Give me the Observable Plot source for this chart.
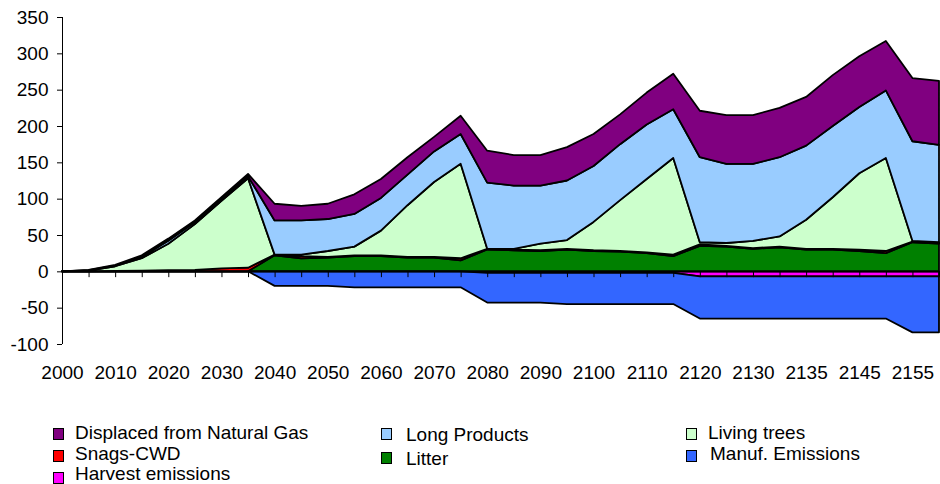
<!DOCTYPE html>
<html><head><meta charset="utf-8">
<script src="https://cdn.jsdelivr.net/npm/d3@7"></script>
<script src="https://cdn.jsdelivr.net/npm/@observablehq/plot@0.6"></script>
<style>
body{margin:0;background:#fff;font-family:"Liberation Sans",Arial,sans-serif;}
#wrap{position:relative;width:940px;height:484px;overflow:hidden;background:#fff;}
.lg{position:absolute;font-size:19px;color:#000;white-space:nowrap;line-height:19px;}
.sw{position:absolute;width:9px;height:10px;border:1.5px solid #000;}
</style></head><body><div id="wrap"></div><script>
// Category tick labels (every second category is labelled)
const xTickLabels = ["2000","2010","2020","2030","2040","2050","2060","2070","2080","2090","2100","2110","2120","2130","2135","2145","2155"];
const nCats = 34;

// Series values (one per 5-year category)
const litter =      [0,0,0,0,0,0,0,0,22,18,19,21,21,19,19,15,30,29,28,30,28,27,25,21,35,34,31,33,30,30,28,25,40,38];
const snags =       [0,0,0.5,1,1.5,2,4,5,1,3,1,1,1,1,1,3,1,1,1,1,1,1,1,2,2,1,1,1,1,1,2,3,1,1];
const livingTrees = [0,1,6.5,17,36.5,63,93,123,0,2,8,12,34,71,103,130,0,1,9,12,39,70,101,133,3,4,10,14,40,71,105,128,1,1];
const longProducts =[0,0.5,1,2,4,3,3,3,47,47,44,45,45,42,42,41,91,87,80,82,77,77,75,67,117,109,106,109,102,98,91,93,137,134];
const displacedNG = [0,0.5,1,2,3,2,2,3,23,20,21,27,26,24,20,25,44,42,42,46,44,41,44,49,64,67,67,68,67,70,70,68,87,88];
const harvestEm =   [0,0,0,0,0,0,0,0,0,0,0,0,0,0,0,0,-2,-2,-2,-2,-2,-2,-2,-2,-7,-7,-7,-7,-7,-7,-7,-7,-7,-7];
const manufEm =     [0,0,0,0,0,0,0,0,-20,-20,-20,-22,-22,-22,-22,-22,-41,-41,-41,-43,-43,-43,-43,-43,-58,-58,-58,-58,-58,-58,-58,-58,-77,-77];

const yTicks = [-100,-50,0,50,100,150,200,250,300,350];

const names = ["Displaced from Natural Gas","Long Products","Living trees","Snags-CWD","Litter","Manuf. Emissions","Harvest emissions"];
const colors = ["#800080","#99CCFF","#CCFFCC","#FF0000","#008000","#3366FF","#FF00FF"];

const posSeries = [["Litter",litter],["Snags-CWD",snags],["Living trees",livingTrees],["Long Products",longProducts],["Displaced from Natural Gas",displacedNG]];
const negSeries = [["Harvest emissions",harvestEm],["Manuf. Emissions",manufEm]];
const toRows = list => list.flatMap(([s, vals]) => vals.map((v, i) => ({i, s, v})));
const pos = toRows(posSeries);
const neg = toRows(negSeries);
const idx = d3.range(nCats);
const labelIdx = idx.filter(i => i % 2 === 0);

const svg = Plot.plot({
  width: 940, height: 400,
  marginTop: 17, marginBottom: 56, marginLeft: 62, marginRight: 1,
  x: {domain: [0, nCats - 1]},
  y: {domain: [-100, 350]},
  color: {domain: names, range: colors},
  style: {fontFamily: "'Liberation Sans', Arial, sans-serif", fontSize: "19px", color: "#000", background: "#fff", overflow: "visible"},
  marks: [
    Plot.areaY(pos, {x: "i", y: "v", fill: "s", order: posSeries.map(d => d[0]), stroke: "black", strokeWidth: 1.8, strokeLinejoin: "round"}),
    Plot.areaY(neg, {x: "i", y: "v", fill: "s", order: negSeries.map(d => d[0]), stroke: "black", strokeWidth: 1.8, strokeLinejoin: "round"}),
    Plot.ruleY([0], {stroke: "black", strokeWidth: 1.5}),
    Plot.ruleX(idx.slice(1), {x: d => d, y1: 0, y2: -8, stroke: "black", strokeWidth: 1}),
    Plot.ruleX([0], {stroke: "black", strokeWidth: 1}),
    Plot.axisY({ticks: yTicks, tickSize: 5, tickPadding: 9, tickFormat: d => String(d), label: null}),
    Plot.axisX({ticks: labelIdx, tickSize: 0, tickPadding: 21, tickFormat: d => xTickLabels[d / 2], label: null})
  ]
});
const wrap = document.getElementById("wrap");
wrap.appendChild(svg);

// Legend (Excel-style, three columns)
const legendItems = [
  ["Displaced from Natural Gas", 53, 428, 75, 423],
  ["Long Products", 381, 428, 406, 425],
  ["Living trees", 686, 428, 708, 423],
  ["Snags-CWD", 53, 450, 75, 444],
  ["Litter", 381, 452, 406, 449],
  ["Manuf. Emissions", 686, 450, 710, 444],
  ["Harvest emissions", 53, 472, 75, 464]
];
for (const [name, sx, sy, tx, ty] of legendItems) {
  const sw = document.createElement("div");
  sw.className = "sw";
  sw.style.left = sx + "px"; sw.style.top = sy + "px";
  sw.style.background = colors[names.indexOf(name)];
  wrap.appendChild(sw);
  const t = document.createElement("div");
  t.className = "lg";
  t.style.left = tx + "px"; t.style.top = ty + "px";
  t.textContent = name;
  wrap.appendChild(t);
}
</script></body></html>
